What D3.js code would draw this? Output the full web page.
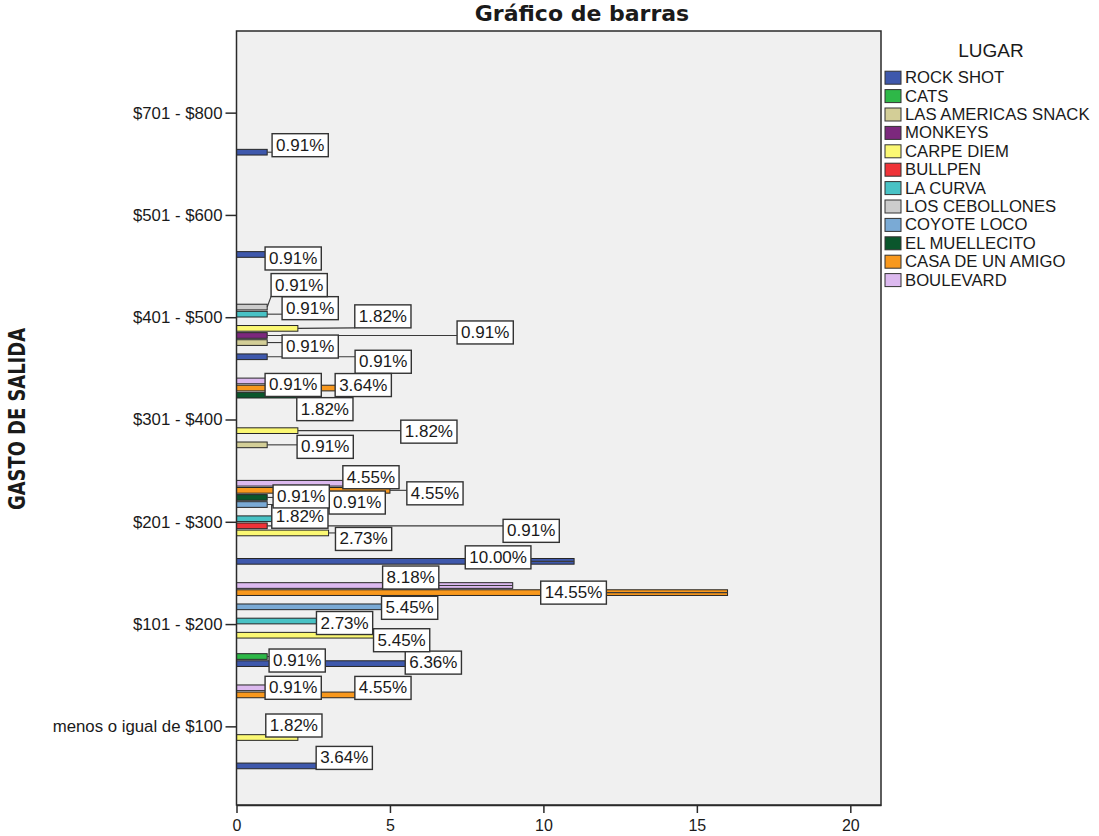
<!DOCTYPE html>
<html>
<head>
<meta charset="utf-8">
<script src="https://cdn.jsdelivr.net/npm/d3@7"></script>
<style>
  body { margin: 0; background: #ffffff; }
  text { font-family: "Liberation Sans", Arial, sans-serif; fill: #1a1a1a; }
</style>
</head>
<body>
<svg id="chart" width="1099" height="836"></svg>
<script>
// Spending brackets, listed from the bottom of the axis to the top
const categories = [
  "menos o igual de $100", "$101 - $200", "$201 - $300",
  "$301 - $400", "$401 - $500", "$501 - $600", "$701 - $800"
];

// Places (series), in legend order
const lugares = [
  "ROCK SHOT", "CATS", "LAS AMERICAS SNACK", "MONKEYS", "CARPE DIEM", "BULLPEN",
  "LA CURVA", "LOS CEBOLLONES", "COYOTE LOCO", "EL MUELLECITO", "CASA DE UN AMIGO", "BOULEVARD"
];

// Counts per bracket for each place (same order as categories)
const rockShot       = [4, 7, 11, 0, 1, 1, 1];
const cats           = [0, 1, 0, 0, 0, 0, 0];
const lasAmericas    = [0, 0, 0, 1, 1, 0, 0];
const monkeys        = [0, 0, 0, 0, 1, 0, 0];
const carpeDiem      = [2, 6, 3, 2, 2, 0, 0];
const bullpen        = [0, 0, 1, 0, 0, 0, 0];
const laCurva        = [0, 3, 2, 0, 1, 0, 0];
const losCebollones  = [0, 0, 0, 0, 1, 0, 0];
const coyoteLoco     = [0, 6, 1, 0, 0, 0, 0];
const elMuellecito   = [0, 0, 1, 2, 0, 0, 0];
const casaDeUnAmigo  = [5, 16, 5, 4, 0, 0, 0];
const boulevard      = [1, 9, 5, 1, 0, 0, 0];

// Base for the percentage labels
const totalCases = 110;

const xTicks = [0, 5, 10, 15, 20];

const seriesValues = [
  rockShot, cats, lasAmericas, monkeys, carpeDiem, bullpen,
  laCurva, losCebollones, coyoteLoco, elMuellecito, casaDeUnAmigo, boulevard
];

const palette = [
  "#3e58ac", "#2eb848", "#d3ce97", "#7c287d", "#fbf873", "#ef3338",
  "#48c2c5", "#cccccc", "#7aaad5", "#0a562c", "#f8981d", "#dcb9ef"
];

// Offsets (px) of each value label's centre from the end of its bar,
// chosen so the boxes do not sit on top of each other
const labelNudge = {
  "ROCK SHOT|$701 - $800": [33, -7],
  "ROCK SHOT|$501 - $600": [26, 4],
  "LOS CEBOLLONES|$401 - $500": [32, -22],
  "LA CURVA|$401 - $500": [43, -6],
  "CARPE DIEM|$401 - $500": [85, -12],
  "MONKEYS|$401 - $500": [218, -3],
  "LAS AMERICAS SNACK|$401 - $500": [43, 4],
  "ROCK SHOT|$401 - $500": [116, 5],
  "BOULEVARD|$301 - $400": [26, 4],
  "CASA DE UN AMIGO|$301 - $400": [4, -3],
  "EL MUELLECITO|$301 - $400": [27, 14],
  "CARPE DIEM|$301 - $400": [131, 1],
  "LAS AMERICAS SNACK|$301 - $400": [58, 2],
  "BOULEVARD|$201 - $300": [-19, -6],
  "CASA DE UN AMIGO|$201 - $300": [45, 3],
  "EL MUELLECITO|$201 - $300": [34, -1],
  "COYOTE LOCO|$201 - $300": [90, -2],
  "LA CURVA|$201 - $300": [2, -2],
  "BULLPEN|$201 - $300": [264, 5],
  "CARPE DIEM|$201 - $300": [35, 6],
  "ROCK SHOT|$201 - $300": [-76, -4],
  "BOULEVARD|$101 - $200": [-102, -8],
  "CASA DE UN AMIGO|$101 - $200": [-154, 0],
  "COYOTE LOCO|$101 - $200": [-11, 1],
  "LA CURVA|$101 - $200": [16, 2],
  "CARPE DIEM|$101 - $200": [-19, 5],
  "CATS|$101 - $200": [30, 4],
  "ROCK SHOT|$101 - $200": [-18, -1],
  "BOULEVARD|menos o igual de $100": [26, 0],
  "CASA DE UN AMIGO|menos o igual de $100": [-7, -7],
  "CARPE DIEM|menos o igual de $100": [-4, -12],
  "ROCK SHOT|menos o igual de $100": [-15, -8]
};

// Flat table of bars
const rows = [];
lugares.forEach((lugar, si) => {
  categories.forEach((cat, ci) => {
    const v = seriesValues[si][ci];
    if (v > 0) rows.push({ lugar, cat, value: v, si });
  });
});

const svg = d3.select("#chart");
const plot = { left: 236.5, right: 881, top: 31, bottom: 805 };

const x = d3.scaleLinear().domain([0, 21]).range([plot.left, plot.right]);
const y = d3.scaleBand()
  .domain(categories)
  .range([plot.bottom - 27, plot.top + 31])
  .paddingInner(0.167)
  .paddingOuter(0.0835);
const inner = d3.scaleBand()
  .domain(lugares)
  .range([y.bandwidth(), 0])
  .paddingInner(0.2)
  .paddingOuter(0.1);
const color = d3.scaleOrdinal().domain(lugares).range(palette);

// Plot background
svg.append("rect")
  .attr("x", plot.left).attr("y", plot.top)
  .attr("width", plot.right - plot.left).attr("height", plot.bottom - plot.top)
  .attr("fill", "#f0f0f0");

// Bars
svg.append("g").selectAll("rect").data(rows).join("rect")
  .attr("x", x(0))
  .attr("y", d => y(d.cat) + inner(d.lugar))
  .attr("width", d => x(d.value) - x(0))
  .attr("height", inner.bandwidth())
  .attr("fill", d => color(d.lugar))
  .attr("stroke", "#262626")
  .attr("stroke-width", 1);

// Frame
svg.append("rect")
  .attr("x", plot.left).attr("y", plot.top)
  .attr("width", plot.right - plot.left).attr("height", plot.bottom - plot.top)
  .attr("fill", "none").attr("stroke", "#2a2a2a").attr("stroke-width", 1.5);

// Axes
const yAxis = svg.append("g")
  .attr("transform", `translate(${plot.left},0)`)
  .call(d3.axisLeft(y).tickSize(11).tickSizeOuter(0).tickPadding(3));
yAxis.select(".domain").remove();
yAxis.selectAll("line").attr("stroke", "#2a2a2a").attr("stroke-width", 1.5);
yAxis.selectAll("text").style("font-size", "16.8px").attr("fill", "#1a1a1a")
  .attr("font-family", "Liberation Sans, Arial, sans-serif");

const xAxis = svg.append("g")
  .attr("transform", `translate(0,${plot.bottom})`)
  .call(d3.axisBottom(x).tickValues(xTicks).tickSize(8).tickSizeOuter(0).tickPadding(7));
xAxis.select(".domain").attr("stroke", "#2a2a2a").attr("stroke-width", 1.5);
xAxis.selectAll("line").attr("stroke", "#2a2a2a").attr("stroke-width", 1.5);
xAxis.selectAll("text").style("font-size", "16px").attr("fill", "#1a1a1a")
  .attr("font-family", "Liberation Sans, Arial, sans-serif");

// Value labels with leader lines
const fmt = v => (v / totalCases * 100).toFixed(2) + "%";
const labels = rows.map(d => {
  const bx = x(d.value);
  const by = y(d.cat) + inner(d.lugar) + inner.bandwidth() / 2;
  const n = labelNudge[d.lugar + "|" + d.cat] || [28, 0];
  return { ...d, bx, by, cx: bx + n[0], cy: by + n[1], text: fmt(d.value) };
});

const leaderLayer = svg.append("g");
const boxLayer = svg.append("g");
const boxH = 23;

labels.forEach(l => {
  const g = boxLayer.append("g");
  const rect = g.append("rect");
  const t = g.append("text")
    .attr("x", l.cx).attr("y", l.cy)
    .attr("text-anchor", "middle")
    .attr("dominant-baseline", "central")
    .style("font-size", "17px")
    .text(l.text);
  const w = t.node().getComputedTextLength() + 8;
  const left = l.cx - w / 2, top = l.cy - boxH / 2;
  rect.attr("x", left).attr("y", top).attr("width", w).attr("height", boxH)
    .attr("fill", "#ffffff").attr("stroke", "#333333").attr("stroke-width", 1.4);
  const px = Math.max(left, Math.min(l.bx, left + w));
  const py = Math.max(top, Math.min(l.by, top + boxH));
  if (px !== l.bx || py !== l.by) {
    leaderLayer.append("line")
      .attr("x1", l.bx).attr("y1", l.by).attr("x2", px).attr("y2", py)
      .attr("stroke", "#3a3a3a").attr("stroke-width", 1.1);
  }
});

// Title
svg.append("text")
  .attr("x", 582).attr("y", 21)
  .attr("text-anchor", "middle")
  .style("font-family", "'DejaVu Sans', Verdana, sans-serif")
  .style("font-weight", "bold").style("font-size", "22px")
  .text("Gráfico de barras");

// Y axis title
svg.append("text")
  .attr("transform", "translate(25,419) rotate(-90)")
  .attr("text-anchor", "middle")
  .style("font-family", "'Liberation Sans Narrow', 'DejaVu Sans Condensed', 'Liberation Sans', sans-serif")
  .style("font-weight", "bold").style("font-size", "23px")
  .attr("textLength", 182).attr("lengthAdjust", "spacingAndGlyphs")
  .text("GASTO DE SALIDA");

// Legend
const legend = svg.append("g");
legend.append("text")
  .attr("x", 991).attr("y", 57)
  .attr("text-anchor", "middle")
  .style("font-size", "19px").attr("fill", "#333")
  .text("LUGAR");
const rowStep = 18.4;
lugares.forEach((lugar, i) => {
  const cy = 77.7 + i * rowStep;
  legend.append("rect")
    .attr("x", 885).attr("y", cy - 6.5).attr("width", 16).attr("height", 13)
    .attr("fill", color(lugar)).attr("stroke", "#333").attr("stroke-width", 1);
  legend.append("text")
    .attr("x", 905).attr("y", cy)
    .attr("dominant-baseline", "central")
    .style("font-size", "16.7px").attr("fill", "#222")
    .text(lugar);
});
</script>
</body>
</html>
